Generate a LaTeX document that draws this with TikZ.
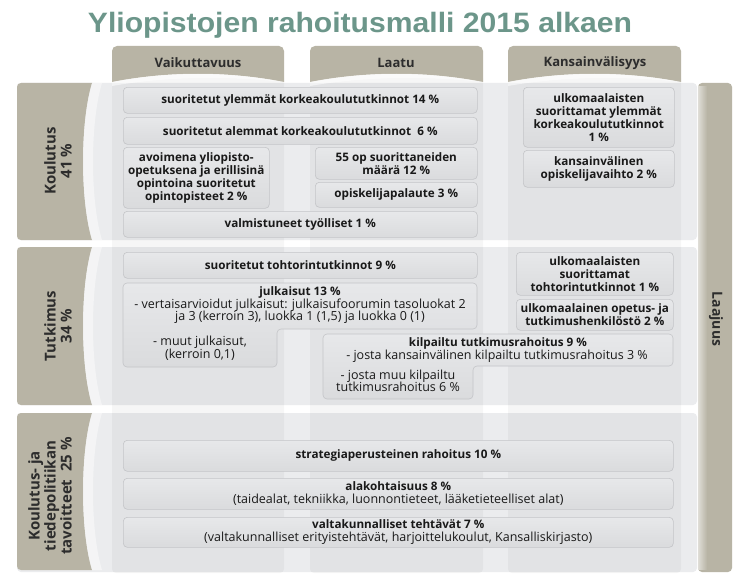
\documentclass[tikz,border=0pt]{standalone}
\usepackage{fontspec}
\usepackage{graphicx}
\setmainfont{Open Sans}
\newfontfamily\titlefont{Liberation Sans}
\definecolor{titlecol}{RGB}{108,150,138}
\definecolor{tan}{RGB}{184,180,165}
\definecolor{rowgray}{RGB}{235,236,238}
\definecolor{boxtop}{RGB}{231,232,234}
\definecolor{boxbot}{RGB}{218,219,221}
\definecolor{boxline}{RGB}{196,197,200}
\definecolor{txt}{RGB}{25,25,25}
\definecolor{lbltxt}{RGB}{45,45,45}
\tikzset{
  ibox/.style={draw=boxline, line width=0.6pt, top color=boxtop, bottom color=boxbot, rounded corners=4pt},
  btxt/.style={font=\bfseries\fontsize{11.7}{13}\selectfont, align=center, text=txt, inner sep=0pt},
  rtxt/.style={font=\fontsize{12.5}{12.5}\selectfont, align=center, text=txt, inner sep=0pt},
  bx/.style={ibox, btxt, anchor=north west},
  tabshape/.style={fill=tan},
  tabtxt/.style={font=\bfseries\fontsize{13}{15}\selectfont, text=lbltxt, inner sep=0pt},
  lbltext/.style={font=\bfseries\fontsize{15}{16}\selectfont, text=lbltxt, align=center, inner sep=0pt},
  rowband/.style={fill=rowgray, rounded corners=4pt},
  colstrip/.style={fill=black, fill opacity=0.035, rounded corners=4pt},
}
\begin{document}
\begin{tikzpicture}[x=1pt,y=-1pt]
\useasboundingbox[fill=white] (0,0) rectangle (747,586);
% title
\node[text=titlecol, inner sep=0pt, anchor=base] (title) at (360,33)
  {\resizebox{544pt}{\height}{\titlefont\bfseries\fontsize{28}{30}\selectfont Yliopistojen rahoitusmalli 2015 alkaen}};
% row bands
\fill[rowband] (17,83) rectangle (697,240);
\fill[rowband] (17,247) rectangle (697,405);
\fill[rowband] (17,413) rectangle (697,572);
% column strips
\fill[colstrip] (112,74) rectangle (284,573);
\fill[colstrip] (310,74) rectangle (483,573);
\fill[colstrip] (508,74) rectangle (681,573);
% tabs
\foreach \a/\b in {112/284, 310/483, 508/681}{
  \pgfmathsetmacro\m{(\a+\b)/2}
  \fill[tabshape, rounded corners=5pt] (\a,82) -- (\a,46) -- (\b,46) [sharp corners] -- (\b,82) .. controls (\m+30,71) and (\m-30,71) .. (\a,82) -- cycle;
  \fill[white, opacity=0.55] (\a,82) .. controls (\m-30,71) and (\m+30,71) .. (\b,82) .. controls (\m+30,76) and (\m-30,76) .. (\a,86) -- cycle;
}
\node[tabtxt] (t1) at (198,63) {Vaikuttavuus};
\node[tabtxt] (t2) at (396,63) {Laatu};
\node[tabtxt] (t3) at (595,63) {Kansainvälisyys};
% row labels
\foreach \t/\b in {83/240, 247/405, 413/570}{
  \pgfmathsetmacro\h{(\b-\t)/4}
  \fill[tan] (92,\t) -- (21,\t) .. controls (18.5,\t) and (17,\t+1.5) .. (17,\t+4) -- (17,\b-4) .. controls (17,\b-1.5) and (18.5,\b) .. (21,\b) -- (92,\b) .. controls (80,\b-\h) and (80,\t+\h) .. (92,\t) -- cycle;
  \fill[white, opacity=0.45] (92,\t) .. controls (80,\t+\h) and (80,\b-\h) .. (92,\b) -- (102,\b) .. controls (90,\b-\h) and (90,\t+\h) .. (102,\t) -- cycle;
}
\node[lbltext, rotate=90] (l1) at (58,161) {Koulutus\\41 \%};
\node[lbltext, rotate=90] (l2) at (58,326) {Tutkimus\\34 \%};
\node[lbltext, rotate=90] (l3) at (50,496) {Koulutus- ja\\tiedepolitiikan\\tavoitteet\ \ 25 \%};
% Laajuus bar
\fill[tan, rounded corners=4pt] (698,83) rectangle (732,572);
\fill[left color=white!55!tan, right color=tan] (698,86) rectangle (707,569);
\node[lbltext, font=\bfseries\fontsize{14}{16}\selectfont, rotate=-90] (laaj) at (716,319) {Laajuus};
% row 1 boxes
\node[bx, minimum width=354pt, minimum height=26pt] (b1) at (123,87) {suoritetut ylemmät korkeakoulututkinnot 14 \%};
\node[bx, minimum width=354pt, minimum height=27pt] (b2) at (123,117) {suoritetut alemmat korkeakoulututkinnot\ \ 6 \%};
\node[bx, minimum width=146pt, minimum height=61pt] (b3) at (123,147) {avoimena yliopisto-\\opetuksena ja erillisinä\\opintoina suoritetut\\opintopisteet 2 \%};
\node[bx, minimum width=162pt, minimum height=32pt] (b4) at (315,147) {55 op suorittaneiden\\määrä 12 \%};
\node[bx, minimum width=162pt, minimum height=25pt] (b5) at (315,182) {opiskelijapalaute 3 \%};
\node[bx, minimum width=354pt, minimum height=26pt] (b6) at (123,211) {valmistuneet työlliset 1 \%};
\node[bx, minimum width=151pt, minimum height=60pt] (b7) at (523,87) {ulkomaalaisten\\suorittamat ylemmät\\korkeakoulututkinnot\\1 \%};
\node[bx, minimum width=151pt, minimum height=37pt] (b8) at (523,150) {kansainvälinen\\opiskelijavaihto 2 \%};
% row 2 boxes
\node[bx, minimum width=354pt, minimum height=26pt] (c1) at (123,252) {suoritetut tohtorintutkinnot 9 \%};
\path[ibox] (123,283) -- (477,283) -- (477,329) -- (277,329) -- (277,367) -- (123,367) -- cycle;
\node[btxt] (c2a) at (300,292) {julkaisut 13 \%};
\node[rtxt] (c2b) at (300,311) {- vertaisarvioidut julkaisut: julkaisufoorumin tasoluokat 2\\ja 3 (kerroin 3), luokka 1 (1,5) ja luokka 0 (1)};
\node[rtxt] (c2c) at (200,348) {- muut julkaisut,\\(kerroin 0,1)};
\path[ibox] (323,334) -- (673,334) -- (673,366) -- (473,366) -- (473,399) -- (323,399) -- cycle;
\node[btxt] (c3a) at (498,343) {kilpailtu tutkimusrahoitus 9 \%};
\node[rtxt] (c3b) at (497,356) {- josta kansainvälinen kilpailtu tutkimusrahoitus 3 \%};
\node[rtxt] (c3c) at (398,381) {- josta muu kilpailtu\\tutkimusrahoitus 6 \%};
\node[bx, minimum width=157pt, minimum height=43pt] (c4) at (516,252) {ulkomaalaisten\\suorittamat\\tohtorintutkinnot 1 \%};
\node[bx, minimum width=157pt, minimum height=31pt] (c5) at (516,299) {ulkomaalainen opetus- ja\\tutkimushenkilöstö 2 \%};
% row 3 boxes
\node[bx, minimum width=550pt, minimum height=31pt] (d1) at (123,440) {strategiaperusteinen rahoitus 10 \%};
\node[bx, minimum width=550pt, minimum height=31pt] (d2) at (123,478) {alakohtaisuus 8 \%\\\mdseries\fontsize{12.5}{12.5}\selectfont(taidealat, tekniikka, luonnontieteet, lääketieteelliset alat)};
\node[bx, minimum width=550pt, minimum height=30pt] (d3) at (123,517) {valtakunnalliset tehtävät 7 \%\\\mdseries\fontsize{12.5}{12.5}\selectfont(valtakunnalliset erityistehtävät, harjoittelukoulut, Kansalliskirjasto)};
\end{tikzpicture}
\end{document}
